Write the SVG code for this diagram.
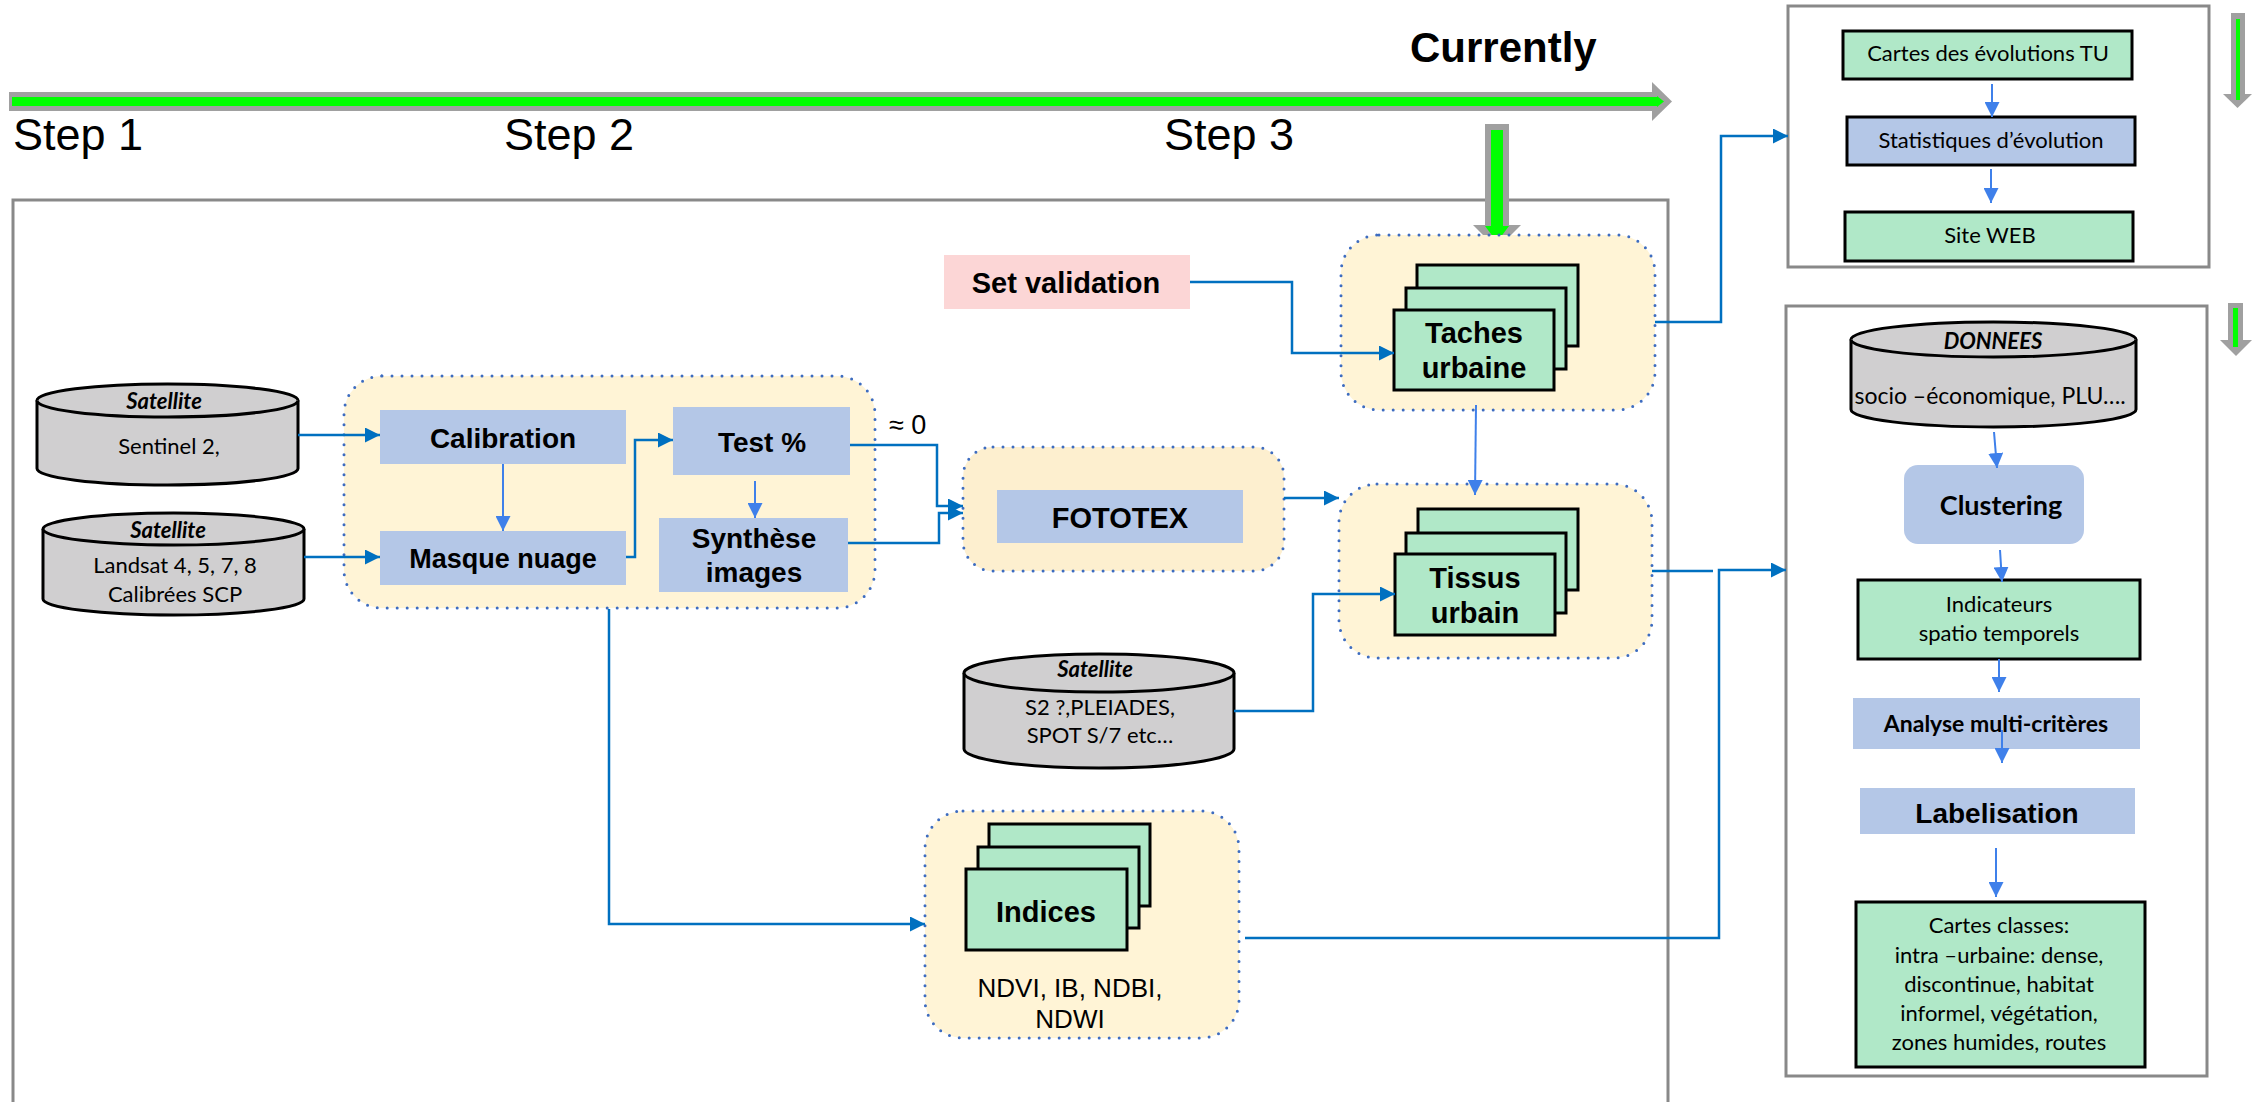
<svg xmlns="http://www.w3.org/2000/svg" width="2254" height="1102" viewBox="0 0 2254 1102">
<style>
.frame{fill:none;stroke:#898989;stroke-width:3}
.grp{fill:#fff4d6;stroke:#3d6cc0;stroke-width:3;stroke-dasharray:0 10;stroke-linecap:round}
.blue{fill:#b4c7e7}
.green{fill:#b0e8c8;stroke:#000;stroke-width:3}
.cyl{fill:#d0cfd0;stroke:#000;stroke-width:3}
.c{stroke:#0070c0;stroke-width:2.5;fill:none}
.cl{stroke:#3f80ea;stroke-width:2;fill:none}
.a{font-family:"Liberation Sans",Arial,sans-serif;font-weight:bold;font-size:29px;text-anchor:middle;fill:#000}
.ar{font-family:"Liberation Sans",Arial,sans-serif;font-size:26px;fill:#000}
.k{font-family:Lato,"Open Sans",sans-serif;font-size:22px;text-anchor:middle;fill:#000}
.kbi{font-family:Lato,"Open Sans",sans-serif;font-size:22px;font-weight:bold;font-style:italic;text-anchor:middle;fill:#000}
.kb{font-family:Lato,"Open Sans",sans-serif;font-weight:bold;text-anchor:middle;fill:#000}
</style>
<defs>
<marker id="ah" markerUnits="userSpaceOnUse" markerWidth="15" markerHeight="15" refX="15" refY="7.5" orient="auto"><path d="M0,0 L15,7.5 L0,15 z" fill="#0070c0"/></marker>
<marker id="ahl" markerUnits="userSpaceOnUse" markerWidth="15" markerHeight="15" refX="15" refY="7.5" orient="auto"><path d="M0,0 L15,7.5 L0,15 z" fill="#3f80ea"/></marker>
</defs>

<!-- timeline -->
<g id="timeline">
<rect x="9" y="92" width="1643" height="19" fill="#a0a0a0"/>
<polygon points="1652,82 1672,101.5 1652,121" fill="#a0a0a0"/>
<rect x="12" y="97" width="1645" height="9" fill="#00ff00"/>
<polygon points="1657,96 1664,101.5 1657,107" fill="#00ff00"/>
<text x="13" y="150" font-family="Liberation Sans,Arial,sans-serif" font-size="45">Step 1</text>
<text x="504" y="150" font-family="Liberation Sans,Arial,sans-serif" font-size="45">Step 2</text>
<text x="1164" y="150" font-family="Liberation Sans,Arial,sans-serif" font-size="45">Step 3</text>
<text x="1410" y="62" font-family="Liberation Sans,Arial,sans-serif" font-size="42" font-weight="bold">Currently</text>
</g>

<!-- frames -->
<g id="frames">
<path class="frame" d="M13,1102 V200 H1668 V1102"/>
<rect class="frame" x="1788" y="6" width="421" height="261"/>
<rect class="frame" x="1786" y="306" width="421" height="770"/>
</g>

<!-- currently down arrow -->
<g id="current-arrow">
<rect x="1485" y="124" width="24" height="101" fill="#a0a0a0"/>
<polygon points="1473,225 1521,225 1497,249" fill="#a0a0a0"/>
<rect x="1491" y="130" width="12" height="97" fill="#00ff00"/>
<polygon points="1485,226 1509,226 1497,242" fill="#00ff00"/>
</g>
<g id="side-arrow-1">
<rect x="2231" y="13" width="14" height="81" fill="#a0a0a0"/>
<polygon points="2223,94 2252,94 2237.5,108" fill="#a0a0a0"/>
<rect x="2236" y="19" width="4" height="81" fill="#00ff00"/>
</g>
<g id="side-arrow-2">
<rect x="2228" y="303" width="15" height="37" fill="#a0a0a0"/>
<polygon points="2220,340 2252,340 2236,356" fill="#a0a0a0"/>
<rect x="2233" y="308" width="5" height="39" fill="#00ff00"/>
</g>

<!-- group frames -->
<g id="group-pretraitement"><rect class="grp" x="344" y="376" width="531" height="232" rx="38"/></g>
<g id="group-fototex"><rect class="grp" x="963" y="447" width="321" height="124" rx="30" style="fill:#fdefcf"/></g>
<g id="group-taches"><rect class="grp" x="1341" y="235" width="314" height="175" rx="38"/></g>
<g id="group-tissus"><rect class="grp" x="1339" y="484" width="313" height="174" rx="38"/></g>
<g id="group-indices"><rect class="grp" x="925" y="811" width="314" height="227" rx="38"/></g>

<!-- cylinders -->
<g id="sat-sentinel">
<path class="cyl" d="M37,400.5 A130.5,16.5 0 0 1 298,400.5 V468.5 A130.5,16.5 0 0 1 37,468.5 Z"/>
<path class="cyl" d="M37,400.5 A130.5,16.5 0 0 0 298,400.5" fill="none"/>
<text class="kbi" x="164" y="409">Satellite</text>
<text class="k" x="169" y="454">Sentinel 2,</text>
</g>
<g id="sat-landsat">
<path class="cyl" d="M43,529 A130.5,16 0 0 1 304,529 V599 A130.5,16 0 0 1 43,599 Z"/>
<path class="cyl" d="M43,529 A130.5,16 0 0 0 304,529" fill="none"/>
<text class="kbi" x="168" y="538">Satellite</text>
<text class="k" x="175" y="573">Landsat 4, 5, 7, 8</text>
<text class="k" x="175" y="602">Calibrées SCP</text>
</g>
<g id="sat-hr">
<path class="cyl" d="M964,673 A135,19 0 0 1 1234,673 V749 A135,19 0 0 1 964,749 Z"/>
<path class="cyl" d="M964,673 A135,19 0 0 0 1234,673" fill="none"/>
<text class="kbi" x="1095" y="677">Satellite</text>
<text class="k" x="1100" y="715">S2 ?,PLEIADES,</text>
<text class="k" x="1100" y="743">SPOT S/7 etc…</text>
</g>

<!-- pre-processing nodes -->
<g id="calibration"><rect class="blue" x="380" y="410" width="246" height="54"/><text class="a" x="503" y="448" style="font-size:28px">Calibration</text></g>
<g id="masque"><rect class="blue" x="380" y="531" width="246" height="54"/><text class="a" x="503" y="568" style="font-size:27px">Masque nuage</text></g>
<g id="test"><rect class="blue" x="673" y="407" width="177" height="68"/><text class="a" x="762" y="452" style="font-size:28px">Test %</text></g>
<g id="synthese"><rect class="blue" x="659" y="518" width="189" height="74"/><text class="a" x="754" y="548" style="font-size:28px">Synthèse</text><text class="a" x="754" y="582" style="font-size:28px">images</text></g>
<g id="approx"><text class="ar" x="889" y="434" style="font-size:27px">≈ 0</text></g>
<g id="fototex"><rect class="blue" x="997" y="490" width="246" height="53"/><text class="a" x="1120" y="528">FOTOTEX</text></g>
<g id="set-validation"><rect x="944" y="255" width="246" height="54" fill="#fcd6d6"/><text class="a" x="1066" y="293">Set validation</text></g>

<!-- stacks -->
<g id="taches">
<rect class="green" x="1417" y="265" width="161" height="81"/>
<rect class="green" x="1406" y="288" width="160" height="81"/>
<rect class="green" x="1394" y="310" width="160" height="80"/>
<text class="a" x="1474" y="343">Taches</text>
<text class="a" x="1474" y="378">urbaine</text>
</g>
<g id="tissus">
<rect class="green" x="1418" y="509" width="160" height="81"/>
<rect class="green" x="1406" y="533" width="160" height="80"/>
<rect class="green" x="1395" y="554" width="160" height="81"/>
<text class="a" x="1475" y="588">Tissus</text>
<text class="a" x="1475" y="623">urbain</text>
</g>
<g id="indices">
<rect class="green" x="989" y="824" width="161" height="82"/>
<rect class="green" x="978" y="847" width="161" height="81"/>
<rect class="green" x="966" y="869" width="161" height="81"/>
<text class="a" x="1046" y="922">Indices</text>
<text class="ar" x="1070" y="997" text-anchor="middle">NDVI, IB, NDBI,</text>
<text class="ar" x="1070" y="1028" text-anchor="middle">NDWI</text>
</g>

<!-- right top -->
<g id="cartes-evol"><rect class="green" x="1843" y="31" width="289" height="48"/><text class="k" x="1988" y="61">Cartes des évolutions TU</text></g>
<g id="stats"><rect class="blue" x="1847" y="117" width="288" height="48" stroke="#000" stroke-width="3"/><text class="k" x="1991" y="148">Statistiques d’évolution</text></g>
<g id="site"><rect class="green" x="1845" y="212" width="288" height="49"/><text class="k" x="1990" y="243">Site WEB</text></g>

<!-- right bottom -->
<g id="donnees">
<path class="cyl" d="M1851,339.5 A142.5,17.5 0 0 1 2136,339.5 V409.5 A142.5,17.5 0 0 1 1851,409.5 Z"/>
<path class="cyl" d="M1851,339.5 A142.5,17.5 0 0 0 2136,339.5" fill="none"/>
<text class="kbi" x="1993" y="349">DONNEES</text>
<text class="k" x="1990" y="404" style="font-size:23px">socio –économique, PLU….</text>
</g>
<g id="clustering"><rect class="blue" x="1904" y="465" width="180" height="79" rx="14"/><text class="kb" x="2001" y="515" font-size="27">Clustering</text></g>
<g id="indicateurs"><rect class="green" x="1858" y="580" width="282" height="79"/><text class="k" x="1999" y="612">Indicateurs</text><text class="k" x="1999" y="641">spatio temporels</text></g>
<g id="analyse"><rect class="blue" x="1853" y="698" width="287" height="51"/><text class="kb" x="1996" y="732" font-size="23">Analyse multi-critères</text></g>
<g id="labelisation"><rect class="blue" x="1860" y="788" width="275" height="46"/><text class="a" x="1997" y="823" style="font-size:28px">Labelisation</text></g>
<g id="cartes-classes">
<rect class="green" x="1856" y="902" width="289" height="165"/>
<text class="k" x="1999" y="933">Cartes classes:</text>
<text class="k" x="1999" y="963">intra –urbaine: dense,</text>
<text class="k" x="1999" y="992">discontinue, habitat</text>
<text class="k" x="1999" y="1021">informel, végétation,</text>
<text class="k" x="1999" y="1050">zones humides, routes</text>
</g>

<!-- connectors -->
<g id="connectors">
<path class="c" marker-end="url(#ah)" d="M298,435 H380"/>
<path class="c" marker-end="url(#ah)" d="M304,557 H380"/>
<path class="c" marker-end="url(#ah)" d="M626,557 H635 V440 H673"/>
<path class="c" marker-end="url(#ah)" d="M850,445 H937 V506 H963"/>
<path class="c" marker-end="url(#ah)" d="M848,543 H939 V513 H963"/>
<path class="c" marker-end="url(#ah)" d="M609,609 V924 H925"/>
<path class="c" marker-end="url(#ah)" d="M1284,498 H1339"/>
<path class="c" marker-end="url(#ah)" d="M1190,282 H1292 V353 H1394"/>
<path class="c" marker-end="url(#ah)" d="M1234,711 H1313 V594 H1395"/>
<path class="c" marker-end="url(#ah)" d="M1655,322 H1721 V136 H1788"/>
<path class="c" d="M1652,571 H1713"/>
<path class="c" marker-end="url(#ah)" d="M1245,938 H1719 V570 H1786"/>
<path class="cl" marker-end="url(#ahl)" d="M503,464 V531"/>
<path class="cl" marker-end="url(#ahl)" d="M755,481 V518"/>
<path class="cl" marker-end="url(#ahl)" d="M1476,405 L1475,495"/>
<path class="cl" marker-end="url(#ahl)" d="M1992,84 V117"/>
<path class="cl" marker-end="url(#ahl)" d="M1991,169 V203"/>
<path class="cl" marker-end="url(#ahl)" d="M1994,432 L1997,468"/>
<path class="cl" marker-end="url(#ahl)" d="M2000,550 L2002,582"/>
<path class="cl" marker-end="url(#ahl)" d="M1999,659 V692"/>
<path class="cl" marker-end="url(#ahl)" d="M2002,730 V763"/>
<path class="cl" marker-end="url(#ahl)" d="M1996,848 V897"/>
</g>
</svg>
